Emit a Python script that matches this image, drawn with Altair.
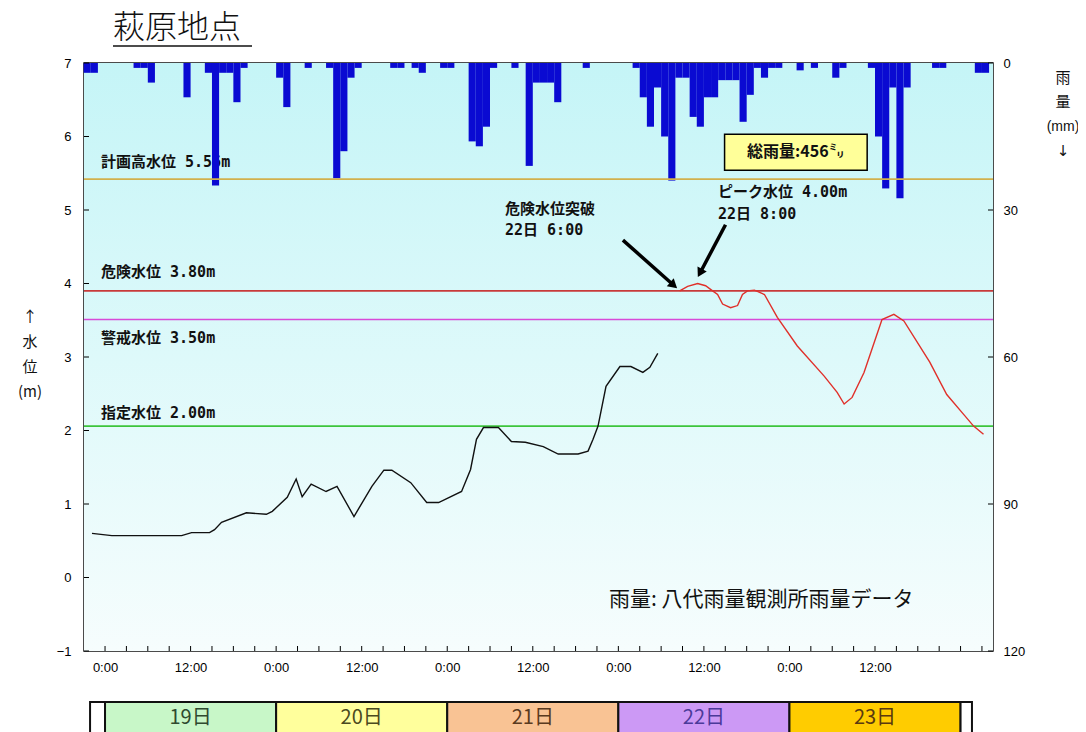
import altair as alt
import pandas as pd

# ---------------- data ----------------
rain_hour = [-3, -2, 4, 5, 6, 11, 14, 15, 16, 17, 18, 19, 24, 25, 28, 31, 32, 33, 34, 35,
             40, 41, 43, 44, 47, 48, 51, 52, 53, 54, 57, 59, 60, 61, 62, 63, 67,
             74, 75, 76, 77, 78, 79, 80, 81, 82, 83, 84, 85, 86, 87, 88, 89, 90, 91, 92, 93, 94,
             97, 99, 102, 103, 107, 108, 109, 110, 111, 112, 116, 117, 122, 123]
rain_mm = [2, 2, 1, 1, 4, 7, 2, 25, 2, 2, 8, 1, 3, 9, 1, 1, 23.5, 18, 3, 1,
           1, 1, 1, 2, 1, 1, 16, 17, 13, 1, 1, 21, 4, 4, 4, 8, 1,
           1, 7, 13, 5, 15, 24, 3, 3, 11, 13, 7, 7, 3.5, 3.5, 3.5, 12, 6.5, 1, 3, 1, 1,
           1.5, 1, 3, 1, 1, 15, 25.6, 5, 27.6, 5, 1, 1, 2, 2]

lv1_hour = [-1.83, 0.96, 10.74, 12.14, 14.66, 15.36, 16.34, 19.83, 22.63, 23.46, 25.56, 26.81,
            27.65, 28.91, 31.00, 32.54, 34.92, 37.43, 39.11, 40.23, 42.88, 45.12, 46.79, 50.01,
            51.27, 52.10, 53.08, 55.18, 57.00, 58.95, 61.47, 63.56, 66.36, 67.75, 68.45, 69.15,
            70.27, 72.22, 73.76, 75.44, 76.42, 77.53]
lv1_m = [0.60, 0.57, 0.57, 0.61, 0.61, 0.65, 0.75, 0.88, 0.86, 0.90, 1.09, 1.34,
         1.10, 1.27, 1.17, 1.24, 0.83, 1.24, 1.46, 1.46, 1.29, 1.02, 1.02, 1.17,
         1.47, 1.88, 2.04, 2.04, 1.85, 1.84, 1.78, 1.68, 1.68, 1.72, 1.88, 2.06,
         2.60, 2.87, 2.87, 2.79, 2.86, 3.05]

lv2_hour = [80.60, 81.72, 83.12, 84.24, 85.22, 85.92, 86.62, 87.74, 88.72, 89.41, 90.11, 91.09,
            92.49, 94.30, 97.10, 100.87, 102.69, 103.67, 104.79, 106.46, 108.98, 110.65, 112.05,
            115.68, 118.06, 120.43, 121.83, 123.22]
lv2_m = [3.90, 3.96, 4.00, 3.97, 3.90, 3.85, 3.72, 3.67, 3.70, 3.85, 3.90, 3.91,
         3.85, 3.54, 3.15, 2.74, 2.52, 2.36, 2.45, 2.79, 3.51, 3.58, 3.49,
         2.93, 2.49, 2.22, 2.06, 1.95]

ref_label = ["計画高水位 5.56m", "危険水位 3.80m", "警戒水位 3.50m", "指定水位 2.00m"]
ref_level = [5.42, 3.90, 3.51, 2.06]
ref_color = ["#d2b04c", "#c83a3a", "#d84ad8", "#3cc43c"]

day_label = ["", "19日", "20日", "21日", "22日", "23日", ""]
day_start = [-2.1, 0, 24, 48, 72, 96, 120]
day_end = [0, 24, 48, 72, 96, 120, 121.6]
day_fill = ["#ffffff", "#c8f7c8", "#ffff9c", "#f9c394", "#cc99f5", "#ffcc00", "#ffffff"]
day_text = ["#333333", "#2f4a2f", "#4a4a20", "#5a3a20", "#4b3a9a", "#5a3a10", "#333333"]

level_ticks = [-1, 0, 1, 2, 3, 4, 5, 6, 7]
rain_ticks = [0, 30, 60, 90, 120]
hour_ticks = list(range(0, 124, 3))
hour_labels = list(range(0, 109, 12))

# ---------------- layout ----------------
W, H = 909, 588
JP = "Noto Sans CJK JP"
MONO = "DejaVu Sans Mono, Noto Sans CJK JP"

xs = alt.Scale(domain=[-2.95, 124.55], nice=False, zero=False)
ys = alt.Scale(domain=[-1, 7], nice=False, zero=False)
rs = alt.Scale(domain=[0, 120], nice=False, zero=False, reverse=True)

xax = alt.Axis(values=hour_labels, labelExpr="datum.value % 24 == 0 ? '0:00' : '12:00'",
               tickSize=0, labelPadding=10, title=None, domain=False, grid=False,
               labelFont="Liberation Sans", labelFontSize=13, labelColor="#000")


def X(f):
    return alt.X(f, type="quantitative", scale=xs, axis=xax)


def YL(f, axis=None):
    return alt.Y(f, type="quantitative", scale=ys, axis=axis)


one = pd.DataFrame({"a": [1]})

bg = alt.Chart(one).mark_rect(
    color=alt.LinearGradient(gradient="linear", x1=0, x2=0, y1=0, y2=1,
                             stops=[alt.GradientStop(color="#c5f5f7", offset=0),
                                    alt.GradientStop(color="#f6fdfd", offset=1)])
).encode(x=alt.value(0), x2=alt.value(W), y=alt.value(0), y2=alt.value(H))

ref_df = pd.DataFrame({"label": ref_label, "level": ref_level, "color": ref_color,
                       "py": [99, 209, 275, 350]})
ref_text = alt.Chart(ref_df).mark_text(align="left", baseline="middle", font=MONO,
                                       fontSize=15, fontWeight="bold", color="#111").encode(
    x=alt.value(17), y=alt.Y("py:Q", scale=None), text="label:N")

rain_df = pd.DataFrame({"h": rain_hour, "mm": rain_mm})
rain_df["h2"] = rain_df["h"] + 1
rain_df["zero"] = 0
bars = alt.Chart(rain_df).mark_rect(color="#0a0ad2").encode(
    x=X("h"), x2="h2",
    y=alt.Y("mm:Q", scale=rs, axis=alt.Axis(orient="right", values=rain_ticks, tickSize=0,
                                            labelPadding=10, title=None, domain=False, grid=False,
                                            labelFont="Liberation Sans", labelFontSize=13,
                                            labelColor="#000")),
    y2="zero")

ref_lines = alt.Chart(ref_df).mark_rule(strokeWidth=1.6).encode(
    y=YL("level"), color=alt.Color("color:N", scale=None))

lv1 = alt.Chart(pd.DataFrame({"h": lv1_hour, "m": lv1_m})).mark_line(
    color="#111111", strokeWidth=1.4).encode(
    x=X("h"),
    y=YL("m", alt.Axis(values=level_ticks, tickSize=0, labelPadding=13, title=None,
                       domain=False, grid=False, labelFont="Liberation Sans",
                       labelFontSize=13, labelColor="#000")))
lv2 = alt.Chart(pd.DataFrame({"h": lv2_hour, "m": lv2_m})).mark_line(
    color="#e0302a", strokeWidth=1.4).encode(x=X("h"), y=YL("m"))

xt = alt.Chart(pd.DataFrame({"h": hour_ticks})).mark_rule(color="#000").encode(
    x=X("h"), y=alt.value(H - 5), y2=alt.value(H))
ylt = alt.Chart(pd.DataFrame({"v": level_ticks})).mark_rule(color="#000").encode(
    y=YL("v"), x=alt.value(0), x2=alt.value(5))
yrt = alt.Chart(pd.DataFrame({"v": rain_ticks})).mark_rule(color="#000").encode(
    y=alt.Y("v:Q", scale=rs, axis=None), x=alt.value(W - 5), x2=alt.value(W))

box_df = pd.DataFrame({"h1": [86.9], "h2": [106.9], "l1": [6.03], "l2": [5.54],
                       "hc": [96.9], "lc": [5.785], "t": ["総雨量:456㍉"]})
box = alt.Chart(box_df).mark_rect(fill="#ffff99", stroke="#000", strokeWidth=1.5).encode(
    x=X("h1"), x2="h2", y=YL("l1"), y2="l2")
box_t = alt.Chart(box_df).mark_text(font=JP, fontSize=16, fontWeight="bold", color="#111").encode(
    x=X("hc"), y=YL("lc"), text="t:N")

arr_df = pd.DataFrame({"h1": [72.64, 87.03], "l1": [4.59, 4.80],
                       "h2": [79.6, 83.55], "l2": [3.99, 4.16],
                       "ang": [131, 208]})
arr = alt.Chart(arr_df).mark_rule(color="#000", strokeWidth=3.5).encode(
    x=X("h1"), x2="h2", y=YL("l1"), y2="l2")
arr_h = alt.Chart(arr_df).mark_point(shape="triangle", filled=True, color="#000",
                                     size=110, opacity=1).encode(
    x=X("h2"), y=YL("l2"), angle=alt.Angle("ang:Q", scale=None))

ann_df = pd.DataFrame({"t": ["危険水位突破", "22日 6:00", "ピーク水位 4.00m", "22日 8:00"],
                       "px": [421, 421, 634, 634], "py": [146, 167, 129, 151]})
ann = alt.Chart(ann_df).mark_text(align="left", baseline="middle", font=MONO, fontSize=15,
                                  fontWeight="bold", color="#111").encode(
    x=alt.X("px:Q", scale=None), y=alt.Y("py:Q", scale=None), text="t:N")

title = alt.Chart(one).mark_text(align="left", baseline="middle", font=JP, fontSize=32,
                                 fontWeight=300, color="#111").encode(
    x=alt.value(29), y=alt.value(-35), text=alt.value("萩原地点"))
uline = alt.Chart(one).mark_rule(color="#111", strokeWidth=1.5).encode(
    x=alt.value(29), x2=alt.value(168), y=alt.value(-17))

ltitle = alt.Chart(one).mark_text(align="center", baseline="top", font=JP, fontSize=15,
                                  lineBreak="\n", lineHeight=25, color="#111").encode(
    x=alt.value(-54), y=alt.value(247), text=alt.value("↑\n水\n位\n(m)"))

rtitle1 = alt.Chart(one).mark_text(align="center", baseline="top", font=JP, fontSize=15,
                                   lineBreak="\n", lineHeight=24, color="#111").encode(
    x=alt.value(979), y=alt.value(8), text=alt.value("雨\n量"))
rtitle2 = alt.Chart(one).mark_text(align="center", baseline="middle", font="Liberation Sans",
                                   fontSize=14, color="#111").encode(
    x=alt.value(979), y=alt.value(64), text=alt.value("(mm)"))
rtitle3 = alt.Chart(one).mark_text(align="center", baseline="middle", font="DejaVu Sans",
                                   fontSize=15, color="#111").encode(
    x=alt.value(979), y=alt.value(88), text=alt.value("↓"))

src = alt.Chart(one).mark_text(align="left", baseline="middle", font=JP, fontSize=21,
                               color="#111").encode(
    x=alt.value(525), y=alt.value(537), text=alt.value("雨量: 八代雨量観測所雨量データ"))

day_df = pd.DataFrame({"t": day_label, "s": day_start, "e": day_end,
                       "f": day_fill, "c": day_text})
day_df["m"] = (day_df["s"] + day_df["e"]) / 2
days = alt.Chart(day_df).mark_rect(stroke="#111", strokeWidth=2).encode(
    x=X("s"), x2="e", y=alt.value(639), y2=alt.value(690),
    fill=alt.Fill("f:N", scale=None))
days_t = alt.Chart(day_df).mark_text(font=JP, fontSize=20, baseline="middle").encode(
    x=X("m"), y=alt.value(655), text="t:N", color=alt.Color("c:N", scale=None))

chart = alt.layer(
    bg, ref_text, bars, ref_lines, lv1, lv2, xt, ylt, yrt, box, box_t, arr, arr_h, ann,
    title, uline, ltitle, rtitle1, rtitle2, rtitle3, src, days, days_t
).resolve_scale(y="independent").properties(
    width=W, height=H,
    autosize=alt.AutoSizeParams(type="none"),
    padding={"left": 76, "top": 55, "right": 85, "bottom": 85},
    background="#ffffff",
).configure_view(stroke="#111", strokeWidth=1.5)

chart.save("out.html", embed_options={"renderer": "svg", "actions": False})
